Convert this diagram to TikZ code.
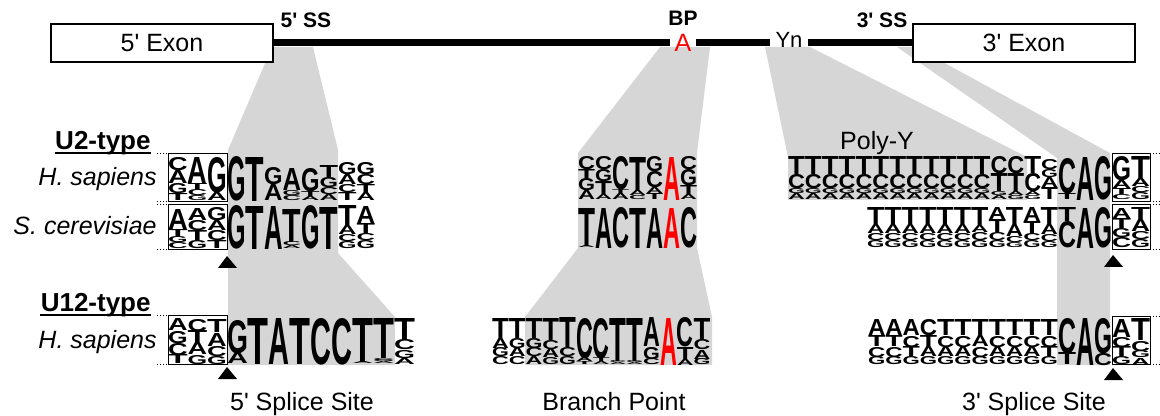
\documentclass[tikz,border=0pt]{standalone}
\usepackage{fontspec}
\setmainfont{Liberation Sans}
\usepackage{graphicx}
\definecolor{funnel}{gray}{0.84}
\newcommand{\pr}{\textquotesingle}
\newcommand{\rA}{\textcolor{red}{A}}
\newcount\lgno
% one logo column: {letters top->bottom}, x, bottom y, width
\newcommand{\logocol}[4]{%
  \xdef\ycur{#3}%
  \foreach \lettr/\lhgt in {#1}{\pgfmathsetmacro\ynew{\ycur-\lhgt}\xdef\ycur{\ynew}}%
  \foreach \lettr/\lhgt in {#1}{%
    \pgfmathsetmacro\lgw{#4*0.5}%
    \pgfmathsetmacro\lgh{\lhgt*0.5}%
    \global\advance\lgno by 1
    \node[logolet] (lg\the\lgno) at (#2,\ycur) {\resizebox{\lgw pt}{\lgh pt}{\lettr}};%
    \pgfmathsetmacro\ynew{\ycur+\lhgt}\xdef\ycur{\ynew}}}
% a row of columns: x, bottom y, column width, {{col},{col},...}
\newcommand{\logo}[4]{%
  \foreach \lgcol [count=\lgi from 0] in {#4}{%
    \pgfmathsetmacro\lgx{#1+\lgi*#3}%
    \expandafter\logocol\expandafter{\lgcol}{\lgx}{#2}{#3}}}
\begin{document}
\begin{tikzpicture}[x=0.5pt,y=-0.5pt]
    \tikzstyle{every node}=[font=\fontsize{12.5}{15}\selectfont]
    \tikzset{
        exon/.style={draw, fill=white, line width=0.6pt, minimum width=111pt, minimum height=19pt, inner sep=0pt},
        ss/.style={font=\fontsize{10.5}{12}\selectfont\bfseries, anchor=base},
        typelbl/.style={font=\fontsize{13}{15}\selectfont\bfseries, anchor=base east, inner sep=0pt},
        species/.style={font=\fontsize{12.5}{15}\selectfont\itshape, anchor=base east, inner sep=0pt},
        site/.style={anchor=base, inner sep=0pt},
        logolet/.style={inner sep=0pt, outer sep=0pt, anchor=north west, font=\bfseries},
        frame/.style={line width=0.5pt},
        tick/.style={line width=0.5pt, densely dotted},
        intron/.style={line width=3.5pt}
        }
    \useasboundingbox (0,0) rectangle (1160,416);

    %funnels
    \fill[funnel] (272,47) -- (313,47) -- (338,150) -- (338,253) -- (395,317) -- (395,365) -- (228,365) -- (228,150) -- cycle;
    \fill[funnel] (660,47) -- (710,47) -- (697,153) -- (697,248) -- (712,317) -- (712,365) -- (525,365) -- (525,317) -- (578,248) -- (578,153) -- cycle;
    \fill[funnel] (765,47) -- (810,47) -- (1027,157) -- (1027,200) -- (788,200) -- (788,157) -- cycle;
    \fill[funnel] (897,47) -- (915,47) -- (1110,153) -- (1110,365) -- (1057,365) -- (1057,158) -- cycle;

    %gene
    \node (exon5) [exon] at (162,43) {5\pr{} Exon};
    \node (exon3) [exon] at (1024,43) {3\pr{} Exon};
    \node (bpA) [anchor=base, text=red, inner xsep=2pt] at (683,52) {A};
    \node (yn) [anchor=base, inner xsep=2.5pt, font=\fontsize{11}{13}\selectfont] at (789,48) {Yn};
    \draw[intron] (exon5.east) -- (bpA.west |- exon5.east);
    \draw[intron] (bpA.east |- exon5.east) -- (yn.west |- exon5.east);
    \draw[intron] (yn.east |- exon5.east) -- (exon3.west |- exon5.east);

    \node (ss5) [ss] at (306,28) {5\pr{} SS};
    \node (bp) [ss] at (683,26) {BP};
    \node (ss3) [ss] at (882,28) {3\pr{} SS};

    %5' splice site
    \logo{168}{201}{19.6}{{C/13,A/13,G/10,T/7},{A/26,T/6,C/6,G/5},{G/35,A/8}}
    \logo{227}{201}{18.5}{{G/44},{T/44},{G/17,A/16},{A/22,G/5,C/5},{G/23,T/5,A/4},{T/12,G/10,C/7,A/6},{G/12,A/10,C/8,T/8},{G/12,C/10,T/8,A/8}}
    \logo{168}{249}{19.6}{{A/20,T/7,G/6,C/6},{A/12,C/10,T/10,G/8},{G/13,A/10,C/10,T/8}}
    \logo{227}{249}{18.5}{{G/43},{T/43},{A/43},{T/33,C/4,A/3},{G/43},{T/42},{T/20,A/9,C/7,G/7},{A/17,T/10,C/7,G/8}}
    \logo{168}{364}{19.6}{{A/12,G/12,C/12,T/9},{C/12,T/12,A/12,G/9},{T/13,A/13,C/10,G/8}}
    \logo{227}{364}{20.9}{{G/33,A/11},{T/46},{A/46},{T/46},{C/46},{C/46},{T/44,A/2},{T/40,C/2,G/2,A/2},{T/22,C/10,G/8,A/6}}

    %branch point
    \logo{578}{200}{17}{{C/13,T/9,G/12,A/9},{C/13,G/12,T/13,A/5},{C/33,T/4,A/6},{T/34,A/5,C/4},{G/15,C/16,A/6,T/6},{\rA/43},{C/13,G/16,T/9,A/5}}
    \logo{578}{248}{17}{{T/38,A/2},{A/40},{C/40},{T/40},{A/40},{\rA/40},{C/40}}
    \logo{492}{365}{16.8}{{T/20,A/10,G/9,C/8},{T/20,G/10,A/9,C/8},{T/20,G/10,C/9,A/8},{T/22,C/9,A/9,G/7},{T/30,C/9,G/8},{C/40,A/4,T/3},{C/40,T/4,A/3},{T/43,C/2,A/2},{T/43,G/2,A/2},{A/29,G/12,C/6},{\rA/47},{C/29,T/12,A/6},{T/22,C/10,A/9,G/6}}

    %3' splice site
    \logo{788}{200}{16.875}{{T/18,C/14,G/5,A/6},{T/18,C/14,G/5,A/6},{T/18,C/14,G/5,A/6},{T/18,C/14,G/5,A/6},{T/18,C/14,G/5,A/6},{T/18,C/14,G/5,A/6},{T/18,C/14,G/5,A/6},{T/18,C/14,G/5,A/6},{T/18,C/14,G/5,A/6},{T/18,C/14,G/5,A/6},{T/18,C/14,G/5,A/6},{T/18,C/14,G/5,A/6},{C/17,T/18,G/4,A/4},{C/17,T/18,A/4,G/4},{T/17,C/18,A/4,G/4},{C/10,G/8,A/10,T/12}}
    \logo{1058}{200}{18}{{C/35,T/6},{A/43},{G/43}}
    \logo{1112}{200}{19}{{G/24,A/8,T/6,C/5},{T/22,A/8,C/6,G/7}}
    \logo{867}{248}{17.36}{{T/17,A/9,C/7,G/7},{T/17,A/9,C/7,G/7},{T/17,A/9,C/7,G/7},{T/17,A/9,C/7,G/7},{T/17,A/9,C/7,G/7},{T/17,A/9,C/7,G/7},{T/18,A/7,C/8,G/7},{A/12,T/13,C/8,G/7},{T/17,A/12,C/6,G/5},{A/14,T/12,C/7,G/7},{T/17,A/10,C/7,G/6}}
    \logo{1058}{248}{18}{{T/14,C/26},{A/40},{G/40}}
    \logo{1112}{248}{19}{{A/10,T/10,G/9,C/10},{T/12,A/12,C/8,G/8}}
    \logo{868}{365}{17.27}{{A/16,T/11,C/10,G/8},{A/16,T/11,C/10,G/8},{A/16,C/11,T/10,G/8},{C/16,T/11,A/10,G/8},{T/16,C/11,A/10,G/8},{T/16,C/11,A/10,G/8},{T/16,A/11,C/10,G/8},{T/16,C/11,A/10,G/8},{T/16,C/11,A/10,G/8},{T/16,C/11,A/10,G/8},{T/16,C/11,T/10,G/8}}
    \logo{1058}{365}{18}{{C/35,T/12},{A/47},{G/35,C/12}}
    \logo{1112}{365}{19}{{A/18,C/10,T/10,G/8},{T/22,C/10,G/7,A/7}}

    %exon frames
    \draw[frame] (168,154) rectangle (227,202);
    \draw[frame] (168,205) rectangle (227,250);
    \draw[frame] (168,316) rectangle (227,364);
    \draw[frame] (1112,154) rectangle (1150,202);
    \draw[frame] (1112,205) rectangle (1150,250);
    \draw[frame] (1112,317) rectangle (1150,364);
    \foreach \yy in {154,202,205,250,316,364} \draw[tick] (157,\yy) -- (168,\yy);
    \foreach \yy in {154,202,205,250,317,364} \draw[tick] (1150,\yy) -- (1160,\yy);

    %splice site marks
    \fill (227,256) -- (218,268) -- (237,268) -- cycle;
    \fill (227,367) -- (218,379) -- (237,379) -- cycle;
    \fill (1113,255) -- (1104,267) -- (1123,267) -- cycle;
    \fill (1113,368) -- (1104,380) -- (1123,380) -- cycle;

    %labels
    \node (u2) [typelbl] at (151,150) {U2-type};
    \draw[line width=1pt] ([yshift=-1.5pt]u2.base west) -- ([yshift=-1.5pt]u2.base east);
    \node (u2hs) [species] at (157,186) {H. sapiens};
    \node (u2sc) [species] at (157,235) {S. cerevisiae};
    \node (u12) [typelbl] at (151,312) {U12-type};
    \draw[line width=1pt] ([yshift=-1.5pt]u12.base west) -- ([yshift=-1.5pt]u12.base east);
    \node (u12hs) [species] at (157,348) {H. sapiens};
    \node (polyy) [site] at (877,150) {Poly-Y};

    \node (site5) [site] at (302,410) {5\pr{} Splice Site};
    \node (bpt) [site] at (614,410) {Branch Point};
    \node (site3) [site] at (1034,410) {3\pr{} Splice Site};
\end{tikzpicture}
\end{document}
